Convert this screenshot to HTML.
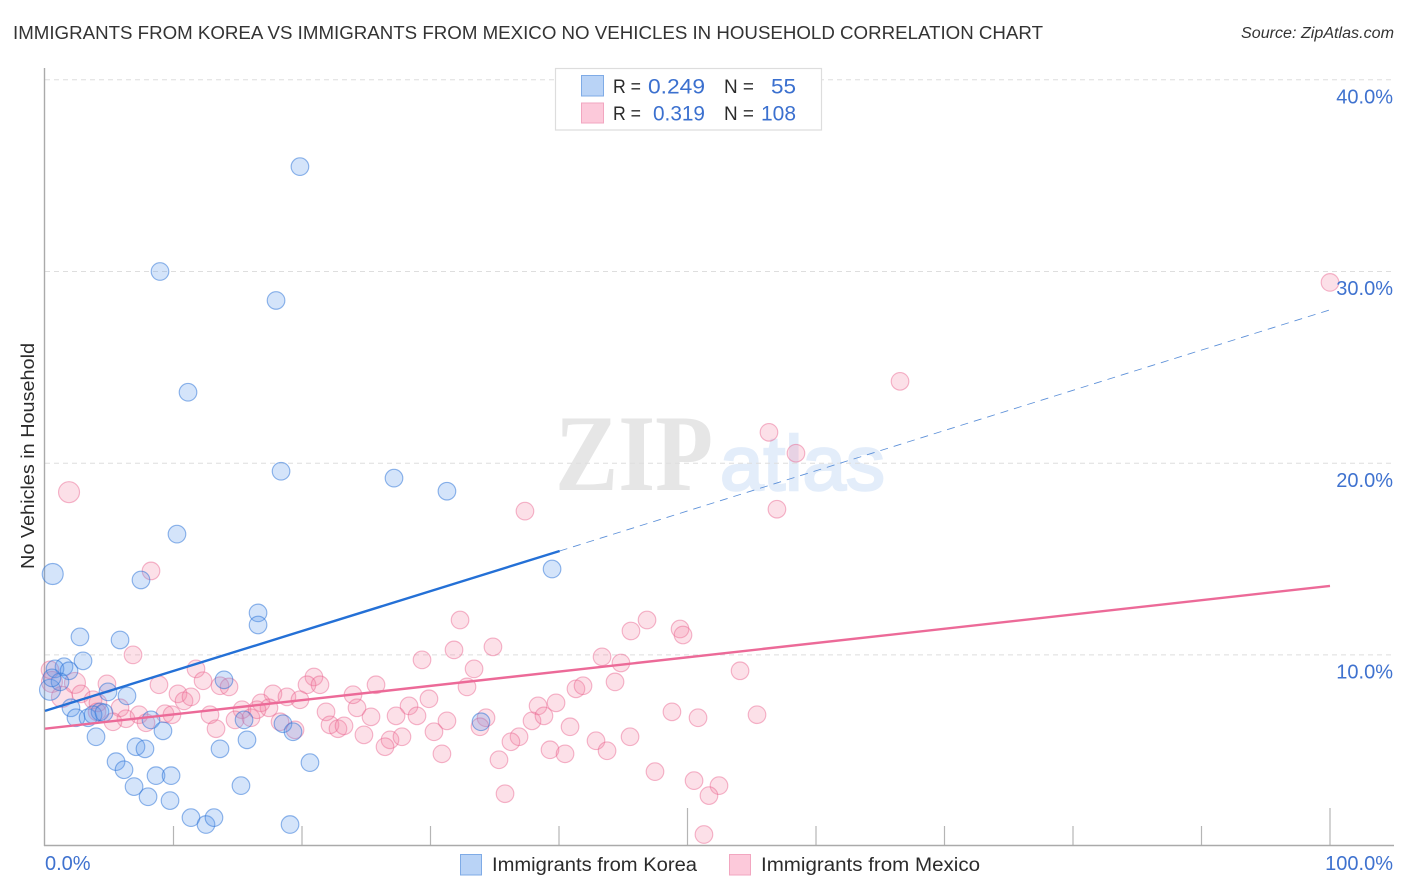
<!DOCTYPE html>
<html lang="en">
<head>
<meta charset="utf-8">
<title>Immigrants from Korea vs Immigrants from Mexico No Vehicles in Household Correlation Chart</title>
<style>
html,body{margin:0;padding:0;background:#fff;}
svg{display:block;font-family:"Liberation Sans",sans-serif;}
.tick{fill:#3f72cf;font-size:20px;}
.val{fill:#3b70cf;font-size:21px;}
.lab{fill:#2b2b2b;font-size:19px;}
</style>
</head>
<body>
<svg id="chart" xmlns="http://www.w3.org/2000/svg" width="1406" height="892" viewBox="0 0 1406 892">
  <text x="13" y="39" font-size="18.5" fill="#333" textLength="1030" lengthAdjust="spacingAndGlyphs">IMMIGRANTS FROM KOREA VS IMMIGRANTS FROM MEXICO NO VEHICLES IN HOUSEHOLD CORRELATION CHART</text>
  <text x="1241" y="38" font-size="15.5" font-style="italic" fill="#333" textLength="153" lengthAdjust="spacingAndGlyphs">Source: ZipAtlas.com</text>

  <g>
    <text x="555" y="490" font-family="'Liberation Serif',serif" font-weight="bold" font-size="109" fill="#e6e6e6" textLength="158" lengthAdjust="spacingAndGlyphs">ZIP</text>
    <text x="720" y="490" font-size="77" fill="#e3edfa" stroke="#e3edfa" stroke-width="2.5" textLength="165" lengthAdjust="spacingAndGlyphs">atlas</text>
  </g>

  <g id="grid"></g>
  <g id="xticks"></g>
  <line x1="44.5" y1="68" x2="44.5" y2="846" stroke="#aaa" stroke-width="1.4"/>
  <line x1="44" y1="845.5" x2="1394" y2="845.5" stroke="#aaa" stroke-width="1.4"/>
  <g id="points"></g>
  <g id="trends"></g>
  <g id="labels"></g>

  <text transform="translate(34,456) rotate(-90)" font-size="18.5" fill="#2b2b2b" text-anchor="middle" textLength="226" lengthAdjust="spacingAndGlyphs">No Vehicles in Household</text>

  <g>
    <rect x="555.5" y="68.5" width="266" height="61.5" fill="#fff" stroke="#ddd" stroke-width="1.2"/>
    <rect x="581.5" y="75.5" width="22" height="20.5" fill="#b9d3f6" stroke="#7fabe6"/>
    <rect x="581.5" y="103" width="22" height="20" fill="#fcc9da" stroke="#f2a6c0"/>
    <text class="lab" x="613" y="93" textLength="28" lengthAdjust="spacingAndGlyphs">R =</text>
    <text class="val" x="648" y="93.5" textLength="57" lengthAdjust="spacingAndGlyphs">0.249</text>
    <text class="lab" x="724" y="93" textLength="30" lengthAdjust="spacingAndGlyphs">N =</text>
    <text class="val" x="771" y="93.5" textLength="25" lengthAdjust="spacingAndGlyphs">55</text>
    <text class="lab" x="613" y="120" textLength="28" lengthAdjust="spacingAndGlyphs">R =</text>
    <text class="val" x="653" y="120.5" textLength="52" lengthAdjust="spacingAndGlyphs">0.319</text>
    <text class="lab" x="724" y="120" textLength="30" lengthAdjust="spacingAndGlyphs">N =</text>
    <text class="val" x="761" y="120.5" textLength="35" lengthAdjust="spacingAndGlyphs">108</text>
  </g>

  <g>
    <rect x="460.5" y="854.5" width="21" height="20.5" fill="#b9d3f6" stroke="#7fabe6"/>
    <text class="lab" x="492" y="871" textLength="205" lengthAdjust="spacingAndGlyphs">Immigrants from Korea</text>
    <rect x="729.5" y="854.5" width="21" height="20.5" fill="#fcc9da" stroke="#f2a6c0"/>
    <text class="lab" x="761" y="871" textLength="219" lengthAdjust="spacingAndGlyphs">Immigrants from Mexico</text>
  </g>
</svg>

<script>
const koreaX = [19.84,8.95,17.98,11.13,18.37,27.16,31.28,10.27,7.47,39.46,16.58,16.58,2.72,5.84,2.96,1.48,0.78,1.87,1.17,0.54,13.93,4.90,6.38,2.02,2.41,3.35,4.28,3.74,4.59,8.25,9.18,3.97,15.49,18.52,19.30,7.08,7.78,13.62,15.72,5.53,6.15,8.64,9.81,20.62,6.93,8.02,9.73,15.25,11.36,12.53,13.15,19.07,33.93];
const koreaY = [35.47,30.0,28.49,23.70,19.58,19.22,18.54,16.30,13.91,14.48,12.19,11.56,10.94,10.78,9.69,9.38,9.27,9.17,8.59,8.80,8.70,8.07,7.86,7.24,6.72,6.72,7.03,6.88,6.98,6.61,6.04,5.73,6.61,6.41,5.99,5.21,5.10,5.10,5.57,4.43,4.01,3.70,3.70,4.38,3.13,2.60,2.40,3.18,1.51,1.15,1.51,1.15,6.51];
const koreaLargeX = [0.60,0.39];
const koreaLargeY = [14.22,8.18];

const mexicoX = [32.30,31.83,34.86,29.34,33.39,32.84,25.76,29.88,28.33,27.32,28.95,25.37,24.28,23.97,31.28,30.27,24.82,26.85,27.78,26.46,30.89,34.32,33.85,35.33,36.89,36.26,35.80,38.37,37.90,38.83,39.77,40.86,39.30,40.47,42.88,43.74,45.53,41.32,41.87,44.36,43.35,44.82,45.60,46.85,49.42,49.65,54.09,48.79,50.82,55.41,47.47,50.51,52.45,51.67,51.28,100,66.54,56.34,58.44,56.96,37.35,8.25,6.85,11.75,12.30,8.87,13.62,14.32,20.93,20.39,21.40,4.82,0.39,2.80,3.74,4.12,10.35,10.82,11.36,17.74,18.83,19.84,16.81,17.43,15.33,21.87,5.84,6.30,5.29,7.32,7.86,9.34,9.88,12.84,13.31,14.79,16.03,16.50,18.29,19.46,22.18,22.80,23.27,4.05];
const mexicoY = [11.82,10.26,10.42,9.74,9.27,8.33,8.44,7.71,7.34,6.82,6.82,6.77,7.24,7.92,6.56,5.99,5.83,5.57,5.73,5.21,4.84,6.72,6.25,4.53,5.73,5.47,2.76,7.34,6.56,6.82,7.50,6.25,5.05,4.84,5.52,5.00,5.73,8.23,8.39,8.59,9.90,9.58,11.25,11.82,11.35,11.04,9.17,7.03,6.72,6.88,3.91,3.44,3.18,2.66,0.63,29.43,24.27,21.61,20.52,17.60,17.50,14.38,10.0,9.27,8.65,8.44,8.39,8.33,8.85,8.44,8.44,8.49,9.22,7.97,7.66,7.50,7.97,7.60,7.81,7.97,7.81,7.66,7.50,7.24,7.14,7.03,7.24,6.67,6.51,6.88,6.46,6.93,6.88,6.88,6.15,6.61,6.72,7.14,6.51,6.09,6.35,6.15,6.30,7.03];
const mexicoLargeX = [1.87,2.33,0.54,1.32];
const mexicoLargeY = [18.49,8.54,8.59,7.81];

const koreaTrendX = [0,40.05];
const koreaTrendY = [7.08,15.42];
const koreaProjectionX = [40.05,100];
const koreaProjectionY = [15.42,28.0];
const mexicoTrendX = [0,100];
const mexicoTrendY = [6.15,13.6];

const yTickValues = [10,20,30,40];
const yTickLabels = ["10.0%","20.0%","30.0%","40.0%"];
const xTickValues = [10,20,30,40,50,60,70,80,90,100];
const xMajorTicks = [50,100];
const xEndValues = [0,100];
const xEndLabels = ["0.0%","100.0%"];

const NS = "http://www.w3.org/2000/svg";
function xScale(v){ return 45 + v * 12.85; }
function yScale(v){ return 846.6 - v * 19.17; }
function make(tag, attrs, parent){
  const el = document.createElementNS(NS, tag);
  for (const k in attrs) el.setAttribute(k, attrs[k]);
  parent.appendChild(el);
  return el;
}

const grid = document.getElementById("grid");
yTickValues.forEach(function(v){
  const el = make("line", {x1:45, x2:1394, y1:yScale(v), y2:yScale(v), stroke:"#dedede", "stroke-width":1, "stroke-dasharray":"5 4"}, grid);
  
  
});

const xticks = document.getElementById("xticks");
xTickValues.forEach(function(v){
  const top = xMajorTicks.indexOf(v) >= 0 ? 808 : 826;
  const el = make("line", {x1:xScale(v), x2:xScale(v), y1:top, y2:845, stroke:"#b5b5b5", "stroke-width":1.2}, xticks);
  
  
});

const labels = document.getElementById("labels");
yTickValues.forEach(function(v, i){
  const el = make("text", {x:1393, y:yScale(v)+23.7, "text-anchor":"end", "class":"tick"}, labels);
  el.textContent = yTickLabels[i];
  
  
});
xEndValues.forEach(function(v, i){
  const el = make("text", {x: v === 0 ? xScale(v) : 1393, y:870, "text-anchor": v === 0 ? "start" : "end", "class":"tick"}, labels);
  el.textContent = xEndLabels[i];
  
  
});

const points = document.getElementById("points");
function drawSeries(xs, ys, r, fill, stroke, name){
  xs.forEach(function(v, i){
    const el = make("circle", {cx:xScale(v), cy:yScale(ys[i]), r:r, fill:fill, stroke:stroke, "stroke-width":1.15}, points);
    
    
  });
}
const koreaFill = "rgba(95,155,235,0.27)";
const koreaStroke = "rgba(45,115,215,0.52)";
const mexicoFill = "rgba(245,130,165,0.25)";
const mexicoStroke = "rgba(232,95,140,0.45)";
drawSeries(mexicoLargeX, mexicoLargeY, 10.5, mexicoFill, mexicoStroke, 'mexico-point');
drawSeries(mexicoX, mexicoY, 8.8, mexicoFill, mexicoStroke, 'mexico-point');
drawSeries(koreaLargeX, koreaLargeY, 10.5, koreaFill, koreaStroke, 'korea-point');
drawSeries(koreaX, koreaY, 8.8, koreaFill, koreaStroke, 'korea-point');

const trends = document.getElementById("trends");
function drawLine(xs, ys, stroke, width, dash, name){
  const attrs = {x1:xScale(xs[0]), y1:yScale(ys[0]), x2:xScale(xs[1]), y2:yScale(ys[1]), stroke:stroke, "stroke-width":width};
  if (dash) attrs["stroke-dasharray"] = dash;
  const el = make("line", attrs, trends);
  
  
}
drawLine(koreaProjectionX, koreaProjectionY, "#5b8fd8", 0.85, "8 6", 'korea-trend-projection');
drawLine(mexicoTrendX, mexicoTrendY, "#ec6a98", 2.4, null, 'mexico-trend-line');
drawLine(koreaTrendX, koreaTrendY, "#2470d6", 2.4, null, 'korea-trend-line');
</script>
</body>
</html>
